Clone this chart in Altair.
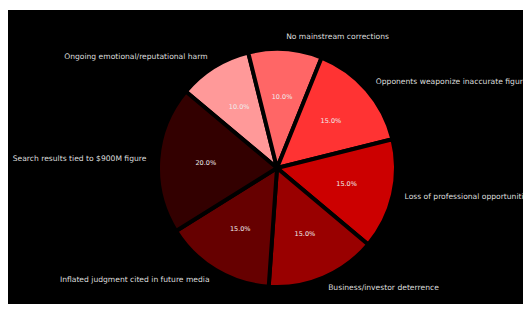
import altair as alt
import pandas as pd

# clockwise order starting from the upper-left
categories = [
    "Ongoing emotional/reputational harm",
    "No mainstream corrections",
    "Opponents weaponize inaccurate figure",
    "Loss of professional opportunities",
    "Business/investor deterrence",
    "Inflated judgment cited in future media",
    "Search results tied to $900M figure",
]
values = [10, 10, 15, 15, 15, 15, 20]
colors = ["#ff9999", "#ff6666", "#ff3333", "#cc0000", "#990000", "#660000", "#330000"]

df = pd.DataFrame({"category": categories, "value": values, "idx": list(range(len(categories)))})

START = -0.872665  # -50 degrees
theta_scale = alt.Scale(domain=[0, 100], range=[START, START + 6.283185])
W, H = 515, 294
CX, CY, R = 269, 158, 119

bg = alt.Chart(pd.DataFrame({"panel": ["bg"]})).mark_rect(color="black").encode(
    x=alt.value(0), x2=alt.value(W), y=alt.value(0), y2=alt.value(H)
)

base = alt.Chart(df)

arcs = base.mark_arc(stroke="black", strokeWidth=4, x=CX, y=CY, outerRadius=R).encode(
    theta=alt.Theta("value:Q", stack=True, scale=theta_scale),
    order=alt.Order("idx:Q"),
    color=alt.Color("category:N", scale=alt.Scale(domain=categories, range=colors), legend=None),
)

txt = base.transform_window(
    cum="sum(value)", sort=[alt.SortField("idx")], frame=[None, 0]
).transform_calculate(
    mid="datum.cum - datum.value/2",
    pct="format(datum.value, '.1f') + '%'",
).transform_calculate(
    right=f"sin({START} + datum.mid/100*2*PI) > 0"
)

pcts = txt.mark_text(fontSize=6.5, color="#eeeeee", font="DejaVu Sans", x=CX, y=CY,
                     radius=R * 0.6, align="center", baseline="middle").encode(
    theta=alt.Theta("mid:Q", stack=False, scale=theta_scale),
    text="pct:N",
)

lab_right = txt.transform_filter("datum.right").mark_text(
    fontSize=7.6, color="#dddddd", font="DejaVu Sans", x=CX, y=CY,
    radius=R * 1.1, align="left", baseline="middle").encode(
    theta=alt.Theta("mid:Q", stack=False, scale=theta_scale),
    text="category:N",
)
lab_left = txt.transform_filter("!datum.right").mark_text(
    fontSize=7.6, color="#dddddd", font="DejaVu Sans", x=CX, y=CY,
    radius=R * 1.1, align="right", baseline="middle").encode(
    theta=alt.Theta("mid:Q", stack=False, scale=theta_scale),
    text="category:N",
)

chart = alt.layer(bg, arcs, pcts, lab_right, lab_left).properties(
    width=W, height=H,
    padding={"left": 0, "top": 2, "right": 0, "bottom": 0},
    autosize=alt.AutoSizeParams(type="none"),
    background="white",
).configure_view(stroke=None)

chart.save("out.html", embed_options={"renderer": "svg", "actions": False})
